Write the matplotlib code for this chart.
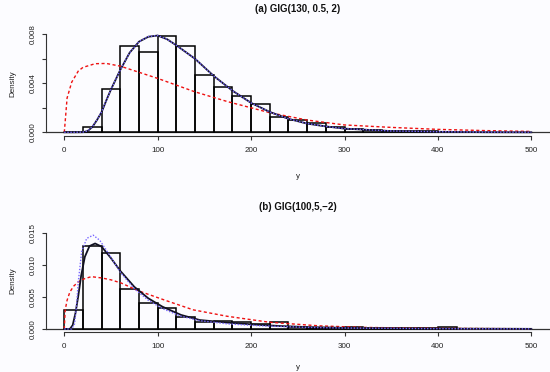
import matplotlib
matplotlib.use("Agg")
import matplotlib.pyplot as plt
import numpy as np

plt.rcParams['font.family'] = ['Liberation Sans', 'DejaVu Sans']

# ---------------- data: panel (a) ----------------
bin_edges_a = list(range(0, 400, 20))  # left edges
hist_a = [0.0, 0.00046, 0.0035, 0.00705, 0.00653, 0.00786, 0.00707, 0.0047,
          0.0037, 0.00294, 0.00231, 0.00122, 0.0010, 0.00073, 0.00046,
          0.0003, 0.00021, 0.00013, 0.0001, 0.00008]

fit_a_x = [0, 10, 20, 25, 30, 35, 40, 45, 50, 55, 60, 70, 80, 90, 100, 110, 120,
           140, 160, 180, 200, 220, 240, 260, 280, 300, 350, 400, 450, 500]
fit_a_y = [0, 0, 0.00001, 0.0001, 0.00043, 0.001, 0.00166, 0.0026, 0.0035, 0.0043,
           0.0051, 0.0065, 0.0074, 0.0078, 0.0079, 0.0076, 0.0071, 0.0060, 0.0046,
           0.0034, 0.0024, 0.00166, 0.0011, 0.00071, 0.00048, 0.0003, 0.0001,
           0.00004, 0.00001, 0.0]

true_a_x = [0, 10, 20, 25, 30, 35, 40, 45, 50, 55, 60, 70, 80, 90, 100, 110, 120,
            140, 160, 180, 200, 220, 240, 260, 280, 300, 350, 400, 450, 500]
true_a_y = [0, 0, 0.00002, 0.00011, 0.00045, 0.00102, 0.00168, 0.0026, 0.0035, 0.0043,
            0.0051, 0.0065, 0.0074, 0.00782, 0.0079, 0.0076, 0.0071, 0.0060, 0.0046,
            0.0034, 0.0024, 0.00166, 0.0011, 0.00072, 0.00048, 0.0003, 0.00011,
            0.00005, 0.00002, 0.00001]

approx_a_x = [0, 1, 3, 8, 15, 20, 33, 45, 60, 80, 100, 140, 175, 220, 260, 300,
              350, 400, 450, 500]
approx_a_y = [0, 0.0009, 0.0028, 0.0041, 0.0050, 0.0053, 0.0056, 0.00562, 0.0054,
              0.0049, 0.0044, 0.0033, 0.0025, 0.0016, 0.0010, 0.0006, 0.0004,
              0.00024, 0.00014, 0.00007]

# ---------------- data: panel (b) ----------------
bin_edges_b = list(range(0, 420, 20))
hist_b = [0.003, 0.013, 0.01186, 0.00627, 0.00403, 0.0033, 0.00183, 0.00105,
          0.0013, 0.00115, 0.00078, 0.0011, 0.00037, 0.00016, 0.00012, 0.00035,
          0.00015, 0.0001, 0.00008, 0.00008, 0.0003]

fit_b_x = [0, 6, 9, 12, 15, 18, 22, 27, 33, 40, 50, 60, 75, 90, 105, 125, 145,
           175, 210, 230, 260, 300, 350, 400, 500]
fit_b_y = [0, 0, 0.0006, 0.0025, 0.0052, 0.0083, 0.0113, 0.0130, 0.0134, 0.0129,
           0.0111, 0.0091, 0.0066, 0.0048, 0.0035, 0.0022, 0.0014, 0.0010, 0.00063,
           0.00047, 0.0003, 0.00018, 0.0001, 0.00006, 0.00002]

true_b_x = [0, 8, 11, 13, 15, 18.6, 24, 31, 38, 47, 60, 75, 90, 105, 125, 145,
            175, 210, 260, 300, 400, 500]
true_b_y = [0, 0, 0.0008, 0.0035, 0.0074, 0.0121, 0.0142, 0.0147, 0.0139, 0.0119,
            0.0089, 0.0063, 0.0045, 0.0032, 0.0020, 0.0013, 0.0008, 0.0005,
            0.00025, 0.00015, 0.00005, 0.00002]

approx_b_x = [0, 1, 3, 6, 10, 15, 22, 29, 40, 50, 61, 79, 108, 138, 174, 220,
              272, 318, 400, 500]
approx_b_y = [0, 0.003, 0.0045, 0.0058, 0.0067, 0.0074, 0.0079, 0.0082, 0.0080,
              0.0077, 0.0072, 0.0060, 0.0045, 0.0030, 0.0020, 0.00105, 0.0005,
              0.00025, 0.0001, 0.00004]

titles = ["(a) GIG(130, 0.5, 2)", "(b) GIG(100,5,\u22122)"]
xticks = [0, 100, 200, 300, 400, 500]
yticks_a = [0.0, 0.002, 0.004, 0.006, 0.008]
ylabels_a = ["0.000", "", "0.004", "", "0.008"]
yticks_b = [0.0, 0.005, 0.010, 0.015]
ylabels_b = ["0.000", "0.005", "0.010", "0.015"]

BG = '#fcfcff'
W, H = 550, 372
fig = plt.figure(figsize=(5.5, 3.72), dpi=100, facecolor=BG)


def make_axes(left_px, right_px, top_px, bottom_px):
    return fig.add_axes([left_px / W, 1 - bottom_px / H,
                         (right_px - left_px) / W, (bottom_px - top_px) / H])


panels = [
    dict(box=(45.6, 550, 31.6, 136), ylim=(-0.000302, 0.00822),
         edges=bin_edges_a, hist=hist_a, xpad=14,
         fit=(fit_a_x, fit_a_y), true=(true_a_x, true_a_y), approx=(approx_a_x, approx_a_y),
         yt=yticks_a, yl=ylabels_a, ybound=(0, 0.008), title=titles[0]),
    dict(box=(45.6, 550, 229, 332.3), ylim=(-0.00052, 0.01567),
         edges=bin_edges_b, hist=hist_b, xpad=10,
         fit=(fit_b_x, fit_b_y), true=(true_b_x, true_b_y), approx=(approx_b_x, approx_b_y),
         yt=yticks_b, yl=ylabels_b, ybound=(0, 0.015), title=titles[1]),
]

for p in panels:
    ax = make_axes(*p['box'])
    ax.set_facecolor(BG)
    ax.set_xlim(-20, 520)
    ax.set_ylim(*p['ylim'])
    ax.bar(p['edges'], p['hist'], width=20, align='edge', facecolor='none',
           edgecolor='black', linewidth=1.1, zorder=2)
    ax.axhline(0, color='#333333', linewidth=0.9, zorder=1)
    ax.plot(*p['fit'], color='#111122', linewidth=1.3, zorder=4)
    ax.plot(*p['true'], color='#7766ff', linewidth=1.0, linestyle=(0, (1, 1.2)), zorder=5)
    ax.plot(*p['approx'], color='#ee1111', linewidth=1.0, linestyle=(0, (2.2, 1.8)), zorder=3)

    for s in ['top', 'right']:
        ax.spines[s].set_visible(False)
    ax.spines['left'].set_bounds(*p['ybound'])
    ax.spines['bottom'].set_bounds(0, 500)
    for s in ['left', 'bottom']:
        ax.spines[s].set_linewidth(0.8)
        ax.spines[s].set_color('#333333')

    ax.set_xticks(xticks)
    ax.set_xticklabels([str(v) for v in xticks])
    ax.set_yticks(p['yt'])
    ax.set_yticklabels(p['yl'], rotation=90, va='center')
    ax.tick_params(axis='both', length=3.2, width=0.8, color='#333333',
                   labelsize=5.8, labelcolor='#222222')
    ax.tick_params(axis='x', pad=4.5)
    ax.tick_params(axis='y', pad=3.5)
    ax.set_xlabel('y', fontsize=5.8, labelpad=p['xpad'], color='#222222')
    ax.set_ylabel('Density', fontsize=5.8, labelpad=9, color='#222222')
    ax.set_title(p['title'], fontsize=7, fontweight='bold', pad=14, color='#111111')

fig.savefig('out.png', dpi=100, facecolor=BG)
